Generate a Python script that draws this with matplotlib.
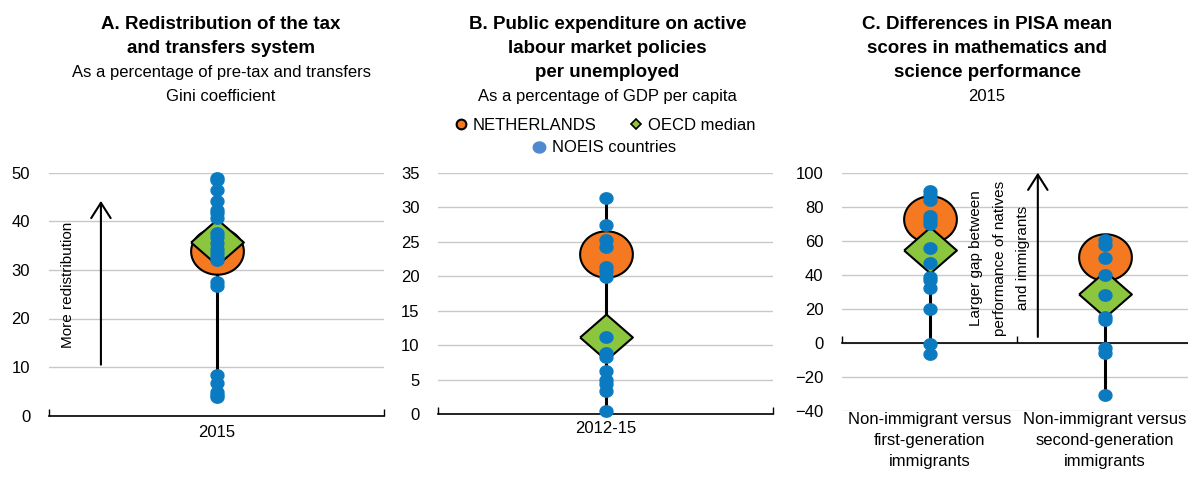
import numpy as np
import matplotlib
matplotlib.use("Agg")
import matplotlib.pyplot as plt
import matplotlib.transforms as mtransforms
from matplotlib.lines import Line2D

plt.rcParams['font.family'] = ['Liberation Sans', 'DejaVu Sans']

# Datos
# Panel A: redistribucion (% del Gini antes de impuestos)
a_cats = ['2015']
a_noeis = [49.0, 48.4, 46.5, 44.1, 42.4, 41.7, 40.7, 37.5, 36.7, 35.5, 34.4,
           33.4, 32.7, 32.0, 27.6, 26.7, 8.4, 6.7, 4.9, 4.3, 3.8]
a_nld = [33.8]
a_oecd = [35.8]

# Panel B: gasto en politicas activas por desempleado (% PIB per capita)
b_cats = ['2012-15']
b_noeis = [31.4, 27.4, 25.2, 24.2, 21.3, 20.7, 19.8, 11.2, 8.8, 8.2, 6.2,
           5.0, 4.4, 3.4, 0.5]
b_nld = [23.2]
b_oecd = [11.1]

# Panel C: diferencias PISA
c_cats = ['Non-immigrant versus\nfirst-generation\nimmigrants',
          'Non-immigrant versus\nsecond-generation\nimmigrants']
c_noeis = [[89.3, 86.8, 83.8, 74.4, 72.0, 70.0, 55.8, 46.6, 38.7, 36.8, 31.9,
            19.7, -0.5, -6.4],
           [60.3, 57.3, 50.1, 39.7, 27.9, 15.2, 13.2, -3.4, -5.8, -30.9]]
c_nld = [73.0, 50.3]
c_oecd = [54.4, 28.9]

ORANGE = '#f47920'
GREEN = '#8cc63f'
BLUE = '#0b7bc1'
BLUE_LEG = '#4f8ad0'
GRID = '#c8c8c8'

W, H = 1188, 478
fig = plt.figure(figsize=(W / 100, H / 100), dpi=100)

# marcadores (ligeramente mas anchos que altos, como en el original)
t = np.linspace(0, 2 * np.pi, 60)
ellipse = np.column_stack([np.cos(t), 0.88 * np.sin(t)])
diamond = [(-1, 0), (0, 0.87), (1, 0), (0, -0.87), (-1, 0)]


def make_ax(left, right, top, bottom):
    return fig.add_axes([left / W, 1 - bottom / H, (right - left) / W, (bottom - top) / H])


def style(ax, yticks, ncat, y0):
    ax.set_ylim(yticks[0], yticks[-1])
    ax.set_yticks(yticks)
    ax.set_xlim(-0.5, ncat - 0.5)
    ax.set_xticks(np.arange(ncat + 1) - 0.5)
    ax.tick_params(axis='x', direction='in', length=5, width=1, labelbottom=False)
    ax.tick_params(axis='y', length=0, pad=13.5, labelsize=12)
    for s in ['top', 'left', 'right']:
        ax.spines[s].set_visible(False)
    ax.spines['bottom'].set_color('black')
    ax.spines['bottom'].set_linewidth(1.2)
    ax.spines['bottom'].set_position(('data', y0))
    ax.yaxis.grid(True, color=GRID, linewidth=1)
    ax.set_axisbelow(True)


def draw_cat(ax, x, pts, nld, oecd):
    ax.vlines(x, min(pts), max(pts), color='black', linewidth=2.2, zorder=2)
    ax.plot([x], [nld], linestyle='none', marker=ellipse, markersize=38,
            markerfacecolor=ORANGE, markeredgecolor='black', markeredgewidth=1.5, zorder=3)
    ax.plot([x], [oecd], linestyle='none', marker=diamond, markersize=38,
            markerfacecolor=GREEN, markeredgecolor='black', markeredgewidth=1.5, zorder=4)
    ax.plot([x] * len(pts), pts, linestyle='none', marker=ellipse, markersize=9.3,
            color=BLUE, zorder=5, clip_on=False)


def cat_labels(ax, cats, yoff):
    tr = mtransforms.blended_transform_factory(ax.transData, ax.transAxes)
    for i, c in enumerate(cats):
        ax.text(i, yoff, c, transform=tr, ha='center', va='top', fontsize=12,
                linespacing=1.5)


# Panel A
axA = make_ax(49, 384, 172.7, 415.7)
style(axA, np.arange(0, 51, 10), 1, 0)
draw_cat(axA, 0, a_noeis, a_nld[0], a_oecd[0])
cat_labels(axA, a_cats, -0.04)
axA.annotate('', xy=(-0.345, 44.2), xytext=(-0.345, 10.5),
             arrowprops=dict(arrowstyle='->,head_length=1.1,head_width=0.7',
                             lw=1.5, color='black', mutation_scale=10,
                             shrinkA=0, shrinkB=0))
axA.text(-0.442, 26.9, 'More redistribution', rotation=90, ha='center',
         va='center', fontsize=11)

# Panel B
axB = make_ax(438.3, 773.3, 172.7, 414)
style(axB, np.arange(0, 36, 5), 1, 0)
draw_cat(axB, 0, b_noeis, b_nld[0], b_oecd[0])
cat_labels(axB, b_cats, -0.03)

# Panel C
axC = make_ax(842, 1192, 172.7, 410.7)
style(axC, np.arange(-40, 101, 20), 2, 0)
for i in range(2):
    draw_cat(axC, i, c_noeis[i], c_nld[i], c_oecd[i])
cat_labels(axC, c_cats, -0.005)
axC.annotate('', xy=(0.619, 100), xytext=(0.619, 3.4),
             arrowprops=dict(arrowstyle='->,head_length=1.1,head_width=0.7',
                             lw=1.5, color='black', mutation_scale=10,
                             shrinkA=0, shrinkB=0))
axC.text(0.40, 49.7, 'Larger gap between\nperformance of natives\nand immigrants',
         rotation=90, ha='center', va='center', multialignment='center',
         fontsize=11, linespacing=1.85)

# Titulos
titles = [
    (221, ['A. Redistribution of the tax', 'and transfers system'],
     ['As a percentage of pre-tax and transfers', 'Gini coefficient']),
    (607.5, ['B. Public expenditure on active', 'labour market policies', 'per unemployed'],
     ['As a percentage of GDP per capita']),
    (987, ['C. Differences in PISA mean', 'scores in mathematics and', 'science performance'],
     ['2015']),
]
for xc, bold, normal in titles:
    for i, line in enumerate(bold + normal):
        isbold = i < len(bold)
        fig.text(xc / W, 1 - (29.3 + 23.8 * i) / H, line, ha='center', va='baseline',
                 fontsize=13.5 if isbold else 12, fontweight='bold' if isbold else 'normal')

# Leyenda
h_nld = Line2D([], [], linestyle='none', marker='o', markersize=7,
               markerfacecolor=ORANGE, markeredgecolor='black', markeredgewidth=1.5)
h_oecd = Line2D([], [], linestyle='none', marker='D', markersize=5.5,
                markerfacecolor=GREEN, markeredgecolor='black', markeredgewidth=1.2)
h_noeis = Line2D([], [], linestyle='none', marker=ellipse, markersize=9,
                 color=BLUE_LEG)
fig.legend([h_nld, h_oecd], ['NETHERLANDS', 'OECD median'], ncol=2,
           loc='center', bbox_to_anchor=(605 / W, 1 - 125 / H), frameon=False,
           fontsize=12, handlelength=0.8, handletextpad=0.3, columnspacing=2.0,
           borderpad=0, borderaxespad=0)
fig.legend([h_noeis], ['NOEIS countries'], loc='center',
           bbox_to_anchor=(604 / W, 1 - 148 / H), frameon=False,
           fontsize=12, handlelength=0.8, handletextpad=0.4,
           borderpad=0, borderaxespad=0)

fig.savefig('out.png', dpi=100)
